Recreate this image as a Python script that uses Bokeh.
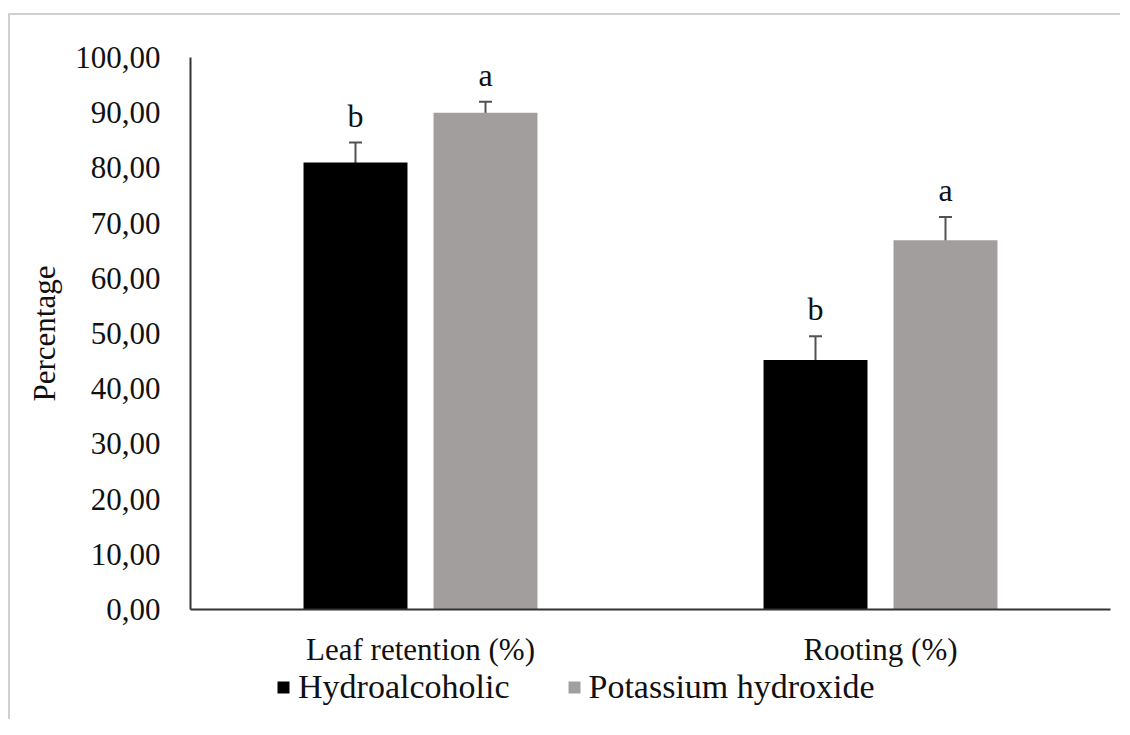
from bokeh.plotting import figure
from bokeh.layouts import column
from bokeh.models import ColumnDataSource, Whisker, Legend, LegendItem, FixedTicker, TeeHead, Range1d
from bokeh.transform import dodge
from bokeh.core.properties import value
from bokeh.embed import file_html
from bokeh.resources import INLINE

categories = ["Leaf retention (%)", "Rooting (%)"]
series_names = ["Hydroalcoholic", "Potassium hydroxide"]
hydro = [81.0, 45.2]
hydro_err = [3.6, 4.3]
koh = [90.0, 66.9]
koh_err = [2.0, 4.2]
hydro_letters = ["b", "b"]
koh_letters = ["a", "a"]
y_ticks = [0, 10, 20, 30, 40, 50, 60, 70, 80, 90, 100]
y_tick_labels = ["0,00", "10,00", "20,00", "30,00", "40,00", "50,00",
                 "60,00", "70,00", "80,00", "90,00", "100,00"]

FONT = "Liberation Serif"
BLACK = "#000000"
GRAY = "#a29e9e"
ERR = "#525252"
TXT = "#111111"

src_h = ColumnDataSource(dict(cat=categories, val=hydro,
                              upper=[v + e for v, e in zip(hydro, hydro_err)],
                              lower=[v - e for v, e in zip(hydro, hydro_err)],
                              lab=hydro_letters))
src_k = ColumnDataSource(dict(cat=categories, val=koh,
                              upper=[v + e for v, e in zip(koh, koh_err)],
                              lower=[v - e for v, e in zip(koh, koh_err)],
                              lab=koh_letters))

p = figure(x_range=categories, y_range=(0, 100), frame_width=920, frame_height=552,
           output_backend="svg", toolbar_location=None,
           min_border_left=180, min_border_right=10, min_border_top=42, min_border_bottom=58)
p.outline_line_color = None
p.xgrid.visible = False
p.ygrid.visible = False

off = 0.1413
w = 0.226
p.vbar(x=dodge("cat", -off, range=p.x_range), top="val", width=w, source=src_h,
       fill_color=BLACK, line_color=None)
p.vbar(x=dodge("cat", off, range=p.x_range), top="val", width=w, source=src_k,
       fill_color=GRAY, line_color=None)

for src, o in ((src_h, -off), (src_k, off)):
    wk = Whisker(base=dodge("cat", o, range=p.x_range), upper="upper", lower="lower", source=src,
                 line_color=ERR, line_width=2,
                 upper_head=TeeHead(size=13, line_color=ERR, line_width=2),
                 lower_head=TeeHead(size=13, line_color=ERR, line_width=2))
    p.add_layout(wk)
    p.text(x=dodge("cat", o, range=p.x_range), y="upper", text="lab", source=src,
           text_font=value(FONT), text_font_size="32px", text_color=TXT,
           text_align="center", text_baseline="bottom", y_offset=-9)

p.yaxis.ticker = FixedTicker(ticks=y_ticks)
p.yaxis.major_label_overrides = {t: l for t, l in zip(y_ticks, y_tick_labels)}
p.yaxis.major_tick_line_color = None
p.yaxis.minor_tick_line_color = None
p.yaxis.major_label_standoff = 24
p.yaxis.axis_line_color = "#333333"
p.yaxis.axis_line_width = 2
p.yaxis.major_label_text_font = FONT
p.yaxis.major_label_text_font_size = "31px"
p.yaxis.major_label_text_color = TXT
p.yaxis.axis_label = "Percentage"
p.yaxis.axis_label_text_font = FONT
p.yaxis.axis_label_text_font_size = "31px"
p.yaxis.axis_label_text_font_style = "normal"
p.yaxis.axis_label_text_color = TXT
p.yaxis.axis_label_standoff = 10

p.xaxis.major_tick_line_color = None
p.xaxis.minor_tick_line_color = None
p.xaxis.axis_line_color = "#333333"
p.xaxis.axis_line_width = 2
p.xaxis.major_label_standoff = 16
p.xaxis.major_label_text_font = FONT
p.xaxis.major_label_text_font_size = "31px"
p.xaxis.major_label_text_color = TXT

# legend strip below the chart (its frame aligns with the chart's frame)
lg = figure(width=1110, height=50, output_backend="svg", toolbar_location=None,
            x_axis_type=None, y_axis_type=None, min_border=0,
            x_range=Range1d(0, 1), y_range=Range1d(0, 1))
lg.outline_line_color = None
lg.xgrid.visible = False
lg.ygrid.visible = False
m1 = lg.scatter(x="val", y="val", source=src_h, marker="square", size=12,
                fill_color=BLACK, line_color=None, visible=False)
m2 = lg.scatter(x="val", y="val", source=src_k, marker="square", size=12,
                fill_color=GRAY, line_color=None, visible=False)
legend = Legend(items=[LegendItem(label=series_names[0], renderers=[m1]),
                       LegendItem(label=series_names[1], renderers=[m2])],
                orientation="horizontal", location=(78, 13),
                border_line_color=None, background_fill_alpha=0,
                inactive_fill_alpha=0,
                label_text_font=FONT, label_text_font_size="34px", label_text_color=TXT,
                glyph_width=30, glyph_height=32, label_standoff=-5, spacing=49,
                padding=0, margin=0)
lg.add_layout(legend, "center")

layout = column(p, lg, spacing=0)
layout.styles = {"margin-top": "13px", "margin-left": "8px",
                 "border-top": "2px solid #d0d0d0", "border-left": "2px solid #d0d0d0"}

open("out.html", "w").write(file_html(layout, INLINE))
